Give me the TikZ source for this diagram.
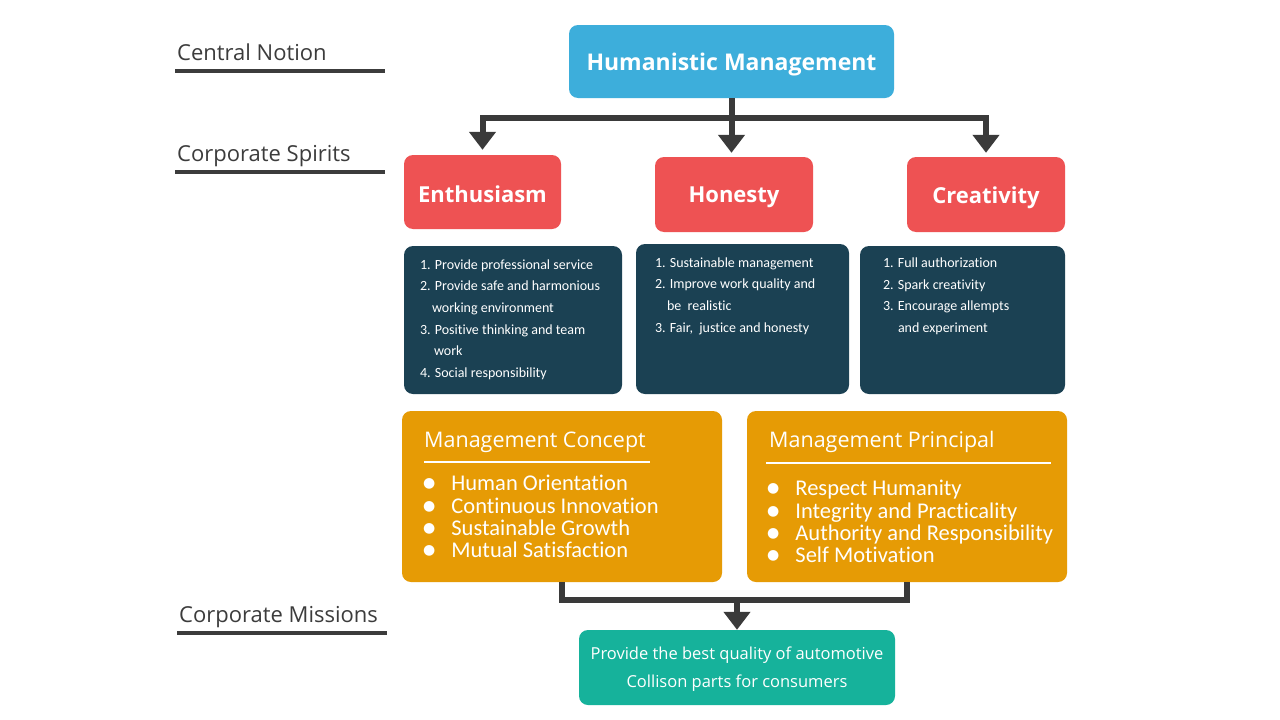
\documentclass[tikz,border=0pt]{standalone}
\usepackage{fontspec}
\setmainfont{Open Sans}
\newfontfamily\listfont[Ligatures=NoCommon]{Carlito}
\newfontfamily\symfont{DejaVu Sans}
\usetikzlibrary{arrows.meta,calc}
\definecolor{hmblue}{HTML}{3DAEDB}
\definecolor{spred}{HTML}{EE5253}
\definecolor{dkteal}{HTML}{1B4153}
\definecolor{mgorange}{HTML}{E69B05}
\definecolor{msteal}{HTML}{16B29B}
\definecolor{txtgray}{HTML}{3C3C3C}
\definecolor{arrgray}{HTML}{3A3A3A}
\newcommand{\blt}{\raisebox{3pt}{\symfont\fontsize{14}{14}\selectfont ●}\hspace{16pt}}
\newcommand{\lowered}[2]{\raisebox{-#1}[\height][\depth]{#2}}
\begin{document}
\begin{tikzpicture}[x=1pt,y=-1pt,
  box/.style={rounded corners=9pt, inner sep=0pt, draw=none},
  level/.style={anchor=base west, inner sep=0pt, text=txtgray, font=\fontsize{22}{26}\selectfont},
  levelline/.style={line width=3.5pt, draw=txtgray},
  conn/.style={line width=6pt, draw=arrgray, -{Triangle[width=26pt,length=18pt]}},
  connplain/.style={line width=6pt, draw=arrgray},
  spirit/.style={box, fill=spred, text=white, font=\fontsize{22}{26}\selectfont\bfseries},
  detail/.style={box, fill=dkteal},
  detailtext/.style={anchor=north west, inner sep=0pt, text=white, align=left, font=\listfont\fontsize{14}{21.6}\selectfont},
  mgmt/.style={box, fill=mgorange},
  mgtitle/.style={anchor=base west, inner sep=0pt, text=white, font=\fontsize{21.5}{24}\selectfont},
  mgtext/.style={anchor=north west, inner sep=0pt, text=white, align=left, font=\listfont\fontsize{22.5}{22.4}\selectfont},
]
\useasboundingbox[fill=white] (0,0) rectangle (1280,720);

% level labels
\node[level] (lcn) at (177,60) {Central Notion};
\draw[levelline] (175,71) -- (385,71);
\node[level] (lcs) at (177,161) {Corporate Spirits};
\draw[levelline] (175,172) -- (385,172);
\node[level] (lcm) at (179,622) {Corporate Missions};
\draw[levelline] (177,633) -- (387,633);

% central notion
\node[box, fill=hmblue, minimum width=325pt, minimum height=73pt, text=white,
  font=\fontsize{23}{28}\selectfont\bfseries] (hm) at (731.5,61.5) {\lowered{3pt}{Humanistic Management}};

% spirits
\node[spirit, minimum width=157pt, minimum height=74pt] (ent) at (482.5,192) {\lowered{2pt}{Enthusiasm}};
\node[spirit, minimum width=158pt, minimum height=75pt] (hon) at (734,194.5) {\lowered{3pt}{Honesty}};
\node[spirit, minimum width=158pt, minimum height=75pt] (cre) at (986,194.5) {\lowered{3pt}{Creativity}};

\coordinate (split) at ($(hm.south)+(0,20)$);
\draw[connplain] (hm.south) -- (split);
\draw[conn, shorten >=5pt] (split) -| (ent.north);
\draw[conn, shorten >=4pt] (split) -| (cre.north);
\draw[conn, shorten >=4pt] (hm.south) -- (hm.south |- hon.north);

% detail boxes
\node[detail, minimum width=218pt, minimum height=148pt] (d1) at (513,320) {};
\node[detail, minimum width=213pt, minimum height=150pt] (d2) at (742.5,319) {};
\node[detail, minimum width=205pt, minimum height=148pt] (d3) at (962.5,320) {};

\node[detailtext] (t1) at ($(d1.north west)+(16,13.5)$) {1. Provide professional service\\
2. Provide safe and harmonious\\
\hspace*{12pt}working environment\\
3. Positive thinking and team\\
\hspace*{14pt}work\\
4. Social responsibility};
\node[detailtext] (t2) at ($(d2.north west)+(19,13.5)$) {1. Sustainable management\\
2. Improve work quality and\\
\hspace*{12pt}be\ \ realistic\\
3. Fair,\ \ justice and honesty};
\node[detailtext] (t3) at ($(d3.north west)+(23,12)$) {1. Full authorization\\
2. Spark creativity\\
3. Encourage allempts\\
\hspace*{15pt}and experiment};

% management boxes
\node[mgmt, minimum width=320pt, minimum height=171pt] (mc) at (562,496.5) {};
\node[mgmt, minimum width=320pt, minimum height=171pt] (mp) at (907,496.5) {};

\node[mgtitle] (mct) at (424,447) {Management\ Concept};
\draw[white, line width=2pt] (424,462) -- (650,462);
\node[mgtext] (mcl) at (423,475) {\blt Human Orientation\\
\blt Continuous Innovation\\
\blt Sustainable Growth\\
\blt Mutual Satisfaction};

\node[mgtitle] (mpt) at (769,447) {Management Principal};
\draw[white, line width=2pt] (766,463) -- (1051,463);
\node[mgtext] (mpl) at (767,480) {\blt Respect Humanity\\
\blt Integrity and Practicality\\
\blt Authority and Responsibility\\
\blt Self Motivation};

% mission
\node[box, fill=msteal, minimum width=316pt, minimum height=75pt, text=white, align=center,
  font=\fontsize{16.5}{28}\selectfont] (ms) at (737,667.5) {\lowered{2pt}{Provide the best quality of automotive}\\\lowered{2pt}{Collison parts for consumers}};

\coordinate (mcb) at ($(mc.south)+(0,18)$);
\draw[connplain, line join=miter] (mc.south) -- (mcb) -| (mp.south);
\draw[conn] (mcb -| ms.north) -- (ms.north);
\end{tikzpicture}
\end{document}
